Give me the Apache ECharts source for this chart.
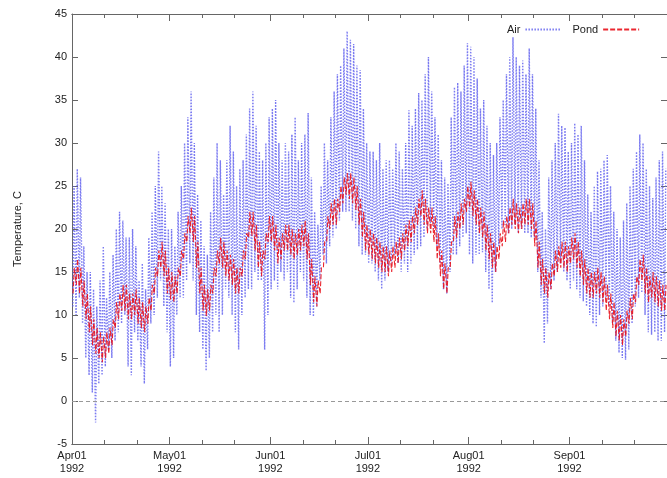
<!DOCTYPE html>
<html>
<head>
<meta charset="utf-8">
<script src="https://cdn.jsdelivr.net/npm/echarts@6/dist/echarts.min.js"></script>
<style>html,body{margin:0;padding:0;background:#fff}#c{width:667px;height:478px}</style>
</head>
<body>
<div id="c"></div>
<script>
// Day offsets counted from 1992-04-01
var monthStartDays = [0, 30, 61, 91, 122, 153];
var tickLabels = ['Apr01\n1992', 'May01\n1992', 'Jun01\n1992', 'Jul01\n1992', 'Aug01\n1992', 'Sep01\n1992'];
var minorTickDays = [10, 20, 40, 50, 71, 81, 101, 111, 132, 142, 163, 173];
var yTicks = [-5, 0, 5, 10, 15, 20, 25, 30, 35, 40, 45];

// Daily air temperature maxima / minima (C), Apr 1 .. Sep 30 1992
var airMax = [
  25,27,26,18,15,15,13,11,14,18,12,15,17,20,22,21,19,19,20,18,14,16,13,19,22,25,29,25,23,20,
  20,18,22,25,30,33,36,30,24,21,18,17,22,26,30,28,24,28,32,29,25,27,28,31,34,36,32,29,28,30,33,
  34,35,30,28,30,29,31,33,28,30,31,33.5,26,22,20.5,25,30,28,33,36,38,39,41,43,42,41.5,39,38.5,34,30,
  29,29,28,30,27,28,28,27,30,29,27,30,33.8,32,34,35.8,35,38,40,36,33,31,28,26,25.3,33,36.5,37,36,39,41.6,
  41.2,40,37.5,34,35,32,30,28.6,30,33,35,38,40,42.3,40,39,39.6,38,41,38,34,28,22,20,26,28,30,33.4,32,31.8,29,
  30,32.3,31,32,28,24,22,25,26.7,27,28,28.6,25,22,20,19,21,23,25,27,29,31,30,27,25,23.6,26,28,29,27
];
var airMin = [
  11,10,12,9,5,3,1,-2.5,2,3,4,6,5,7,8,9,10,4,3,8,7,4,2,6,9,10,12,14,11,8,
  4,5,10,12,12,14,16,14,10,8,6,3.5,5,8,10,8,10,13,12,10,8,6,10,12,13,13,15,14,14,6,10,
  13,14,13,15,14,15,12,11.4,13,15,14,12,10,9.8,11,14,17,16,18,19,20,21,22,22,22,21,20,18,17,17,
  16,16,15,14,13,14,15,16,17,16,15,16,15,16,17,17.6,18,19,20,20.7,20,18,16,13,12.5,15,17,17,18,19,19.5,
  17,16,17,17,17.3,15,13,11.4,15,18,20,20.5,19.5,20,20.5,19.5,20,19.5,19.5,19,19,15,12,6.7,9,13,14,15,16,15,14,
  13,14,13,12,11.6,11,10,9,8.6,10,11,12,11,9,7,5.6,5,4.8,6,9,11,12,12.6,10,8,7.7,8,7,7,8
];
// Daily pond temperature highs / lows (C)
var pondHigh = [
  15.5,16.5,15.5,14,12.5,11,9.5,8.5,8,7.5,8,8.5,9.5,11.5,12.5,13.5,13.5,12.5,12.5,13,12,11.5,11,12,13.5,15.5,17.5,18.5,17.5,15.5,
  15,14.5,15.5,17.5,19.5,21.5,22.5,21.5,18.5,15.5,13.5,13,13.5,15.5,17.5,19,18.5,17.5,17,16.5,15.5,15.5,17.5,19.5,22,22,20.5,18.5,17.5,19.5,21.5,
  21.5,20.5,19,19.5,20.5,20.5,20,19.5,20,20.5,21,19.5,16.5,14.5,14,15.5,18.5,21.5,23,23.5,23.5,25,26,26.5,26.5,26,25,23.5,22,20.5,
  20,19.5,19,18.5,18,18,17.5,18,18.5,19,19.5,20.5,21,21.5,22.5,23.5,24.5,23.5,22.5,22.5,21.5,19.5,17.5,16,15.5,18.5,21.5,22,23,23.5,25,
  25.5,24.5,23.5,22.5,22,20.5,19.5,18.5,18,19.5,21,21.5,22.5,23.5,23,22.5,23,23.5,23.5,23,21,18.5,16.5,15.5,15,16,17.5,18,18.5,18.5,18,
  19,19.5,18.5,17.5,16.5,15.5,15,15,15.5,15,14.5,13.5,12.5,11.5,10.5,10,9.5,10.5,12,12.5,14.5,16.5,17,15.5,14.5,15,14.5,14,13.5,13.5
];
var pondLow = [
  12.5,13.5,12.5,11,9.5,8,6.5,5.5,5,4.5,5,5.5,6.5,8.5,9.5,10.5,10.5,9.5,9.5,10,9,8.5,8,9,10.5,12.5,14.5,15.5,14.5,12.5,
  11.8,11.5,12.5,14.5,16.5,18.5,19.5,18.5,15.5,12.5,10.5,9.9,10.5,12.5,14.5,16,15.5,14.5,14,13.5,12.5,12.5,14.5,16.5,19,19.2,17.5,15.5,14.5,16.5,18.5,
  18.5,17.5,16,16.5,17.5,17.5,17,16.5,17,17.5,18,16.5,13.5,11.5,11,12.5,15.5,18.5,20,20.5,20.5,22,23,24,23.5,23,22.2,20.5,19,17.5,
  17,16.5,16,15.5,15,15,14.5,15,15.5,16,16.5,17.5,18,18.5,19.5,20.5,21.5,20.5,19.5,19.5,18.5,16.5,14.5,13,12.5,15.5,18.5,19,20,20.5,22,
  22.5,21.5,20.5,19.5,19,17.5,16.5,15.5,15,16.5,18,18.5,19.5,20.5,20,19.5,20,20.5,20.5,20,18,15.5,13.5,12.5,12,13,14.5,15,15.5,15.5,15,
  16,16.5,15.5,14.5,13.5,12.5,12,12,12.5,12,11.5,10.5,9.5,8.5,7.5,7,6.5,7.5,9,9.5,11.5,13.5,14,12.5,11.5,12,11.5,11,10.5,10.5
];

// Build series: daily min in the early morning, max in mid afternoon
var airData = [], pondData = [];
for (var i = 0; i < airMax.length; i++) {
  airData.push([i + 0.25, airMin[i]]);
  airData.push([i + 0.625, airMax[i]]);
}
for (var j = 0; j < pondHigh.length; j++) {
  pondData.push([j + 0.33, pondLow[j]]);
  pondData.push([j + 0.71, pondHigh[j]]);
}

var FONT = 'Liberation Sans, Arial, sans-serif';
var axisColor = '#666';
function xAx(pos, ticks, len, withLabels) {
  return {
    type: 'value', position: pos, min: 0, max: 183,
    axisLine: {show: true, onZero: false, lineStyle: {color: axisColor, width: 1}},
    axisTick: {show: true, inside: true, length: len, customValues: ticks, lineStyle: {color: axisColor}},
    axisLabel: withLabels ? {
      show: true, customValues: monthStartDays, color: '#222', fontSize: 11, fontFamily: FONT,
      lineHeight: 13, margin: 5,
      formatter: function (v) { var k = monthStartDays.indexOf(Math.round(v)); return k >= 0 ? tickLabels[k] : ''; }
    } : {show: false},
    splitLine: {show: false}
  };
}
function yAx(pos, withLabels) {
  return {
    type: 'value', position: pos, min: -5, max: 45, interval: 5,
    name: withLabels ? 'Temperature, C' : '', nameLocation: 'middle', nameGap: 49,
    nameTextStyle: {color: '#222', fontSize: 11, fontFamily: FONT},
    axisLine: {show: true, onZero: false, lineStyle: {color: axisColor, width: 1}},
    axisTick: {show: true, inside: true, length: 6, lineStyle: {color: axisColor}},
    axisLabel: withLabels ? {show: true, color: '#222', fontSize: 11, fontFamily: FONT, margin: 5} : {show: false},
    splitLine: {show: false}
  };
}

var chart = echarts.init(document.getElementById('c'), null, {renderer: 'canvas'});
chart.setOption({
  animation: false,
  backgroundColor: '#fff',
  grid: {left: 72, top: 14, width: 600, height: 430, containLabel: false},
  legend: {
    left: 502, top: 19, align: 'right', itemWidth: 36, itemHeight: 8, itemGap: 10,
    itemStyle: {opacity: 0},
    textStyle: {color: '#222', fontSize: 11, fontFamily: FONT},
    data: ['Air', 'Pond']
  },
  xAxis: [
    xAx('bottom', monthStartDays, 7, true),
    xAx('bottom', minorTickDays, 4, false),
    xAx('top', monthStartDays, 7, false),
    xAx('top', minorTickDays, 4, false)
  ],
  yAxis: [yAx('left', true), yAx('right', false)],
  series: [
    {
      name: 'Air', type: 'line', xAxisIndex: 0, yAxisIndex: 0, data: airData,
      symbol: 'none', showSymbol: false, color: '#5a5aee',
      lineStyle: {color: '#5a5aee', width: 1.4, type: [1.5, 1.5], opacity: 0.8},
      markLine: {
        silent: true, symbol: 'none', label: {show: false},
        lineStyle: {color: '#999', width: 1, type: [4, 3]},
        data: [{yAxis: 0}]
      }
    },
    {
      name: 'Pond', type: 'line', xAxisIndex: 0, yAxisIndex: 0, data: pondData,
      symbol: 'none', showSymbol: false, color: '#e8101a',
      lineStyle: {color: '#e8101a', width: 1.1, type: [5, 2], opacity: 0.9}
    }
  ]
});
</script>
</body>
</html>
